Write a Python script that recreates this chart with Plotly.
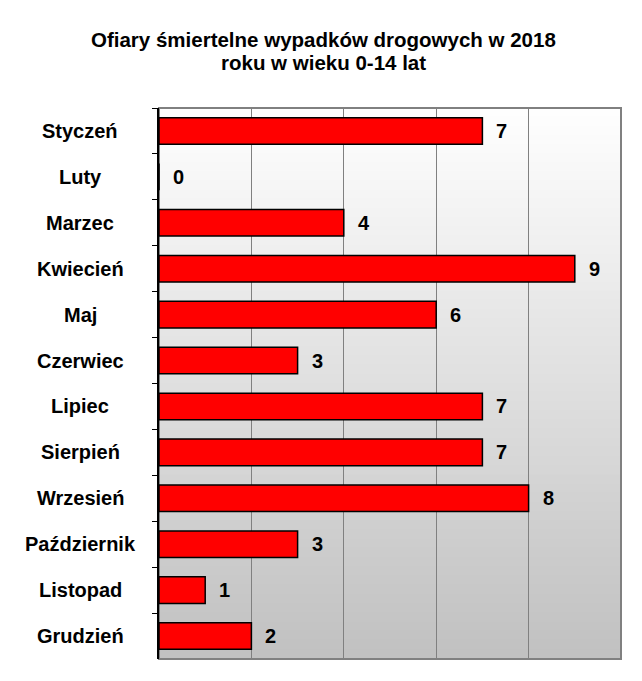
import plotly.graph_objects as go

months = ["Styczeń", "Luty", "Marzec", "Kwiecień", "Maj", "Czerwiec", "Lipiec",
          "Sierpień", "Wrzesień", "Październik", "Listopad", "Grudzień"]
values = [7, 0, 4, 9, 6, 3, 7, 7, 8, 3, 1, 2]
title_lines = ["Ofiary śmiertelne wypadków drogowych w 2018", "roku w wieku 0-14 lat"]

font_family = "Liberation Sans, Arial, sans-serif"

fig = go.Figure()
fig.add_trace(go.Bar(
    y=months, x=values, orientation="h",
    marker=dict(color="#ff0000", line=dict(color="#000000", width=1.5)),
    width=0.58, hoverinfo="x+y",
))

for m, v in zip(months, values):
    fig.add_annotation(x=v, y=m, text=f"<b>{v}</b>", showarrow=False,
                       xanchor="left", xshift=12,
                       font=dict(size=20, color="black", family=font_family))
    # centered category labels
    fig.add_annotation(x=0, y=m, xref="paper", text=f"<b>{m}</b>", showarrow=False,
                       xanchor="center", xshift=-79,
                       font=dict(size=20, color="black", family=font_family))

# title (two lines), centered on the page
for line, shift in zip(title_lines, [69, 46]):
    fig.add_annotation(x=(323 - 159) / 462, y=1, xref="paper", yref="paper", text=f"<b>{line}</b>",
                       showarrow=False, xanchor="center", yanchor="middle", yshift=shift,
                       font=dict(size=20.5, color="black", family=font_family))

# gradient background (white at top -> gray at bottom)
n = 60
for i in range(n):
    t = (i + 0.5) / n
    g = round(255 - (255 - 192) * t)
    fig.add_shape(type="rect", xref="x domain", yref="y domain",
                  x0=0, x1=1, y0=1 - (i + 1) / n, y1=1 - i / n + 0.002,
                  fillcolor=f"rgb({g},{g},{g})", line=dict(width=0), layer="below")

# plot area border
fig.add_shape(type="rect", xref="x domain", yref="y domain", x0=0, x1=1, y0=0, y1=1,
              line=dict(color="#808080", width=2), fillcolor="rgba(0,0,0,0)", layer="below")

fig.update_layout(
    width=642, height=681,
    margin=dict(l=159, r=21, t=108, b=22),
    paper_bgcolor="white", plot_bgcolor="white",
    showlegend=False,
    bargap=0.4,
    font=dict(family=font_family),
)
fig.update_xaxes(range=[0, 10], dtick=2, showticklabels=False, showgrid=True,
                 gridcolor="#808080", gridwidth=1, zeroline=False, showline=False)
fig.update_yaxes(autorange="reversed", showline=True, linecolor="black", linewidth=1.5,
                 ticks="outside", tickson="boundaries", ticklen=5, tickcolor="black",
                 showticklabels=False, showgrid=False)

fig.write_html("out.html")
